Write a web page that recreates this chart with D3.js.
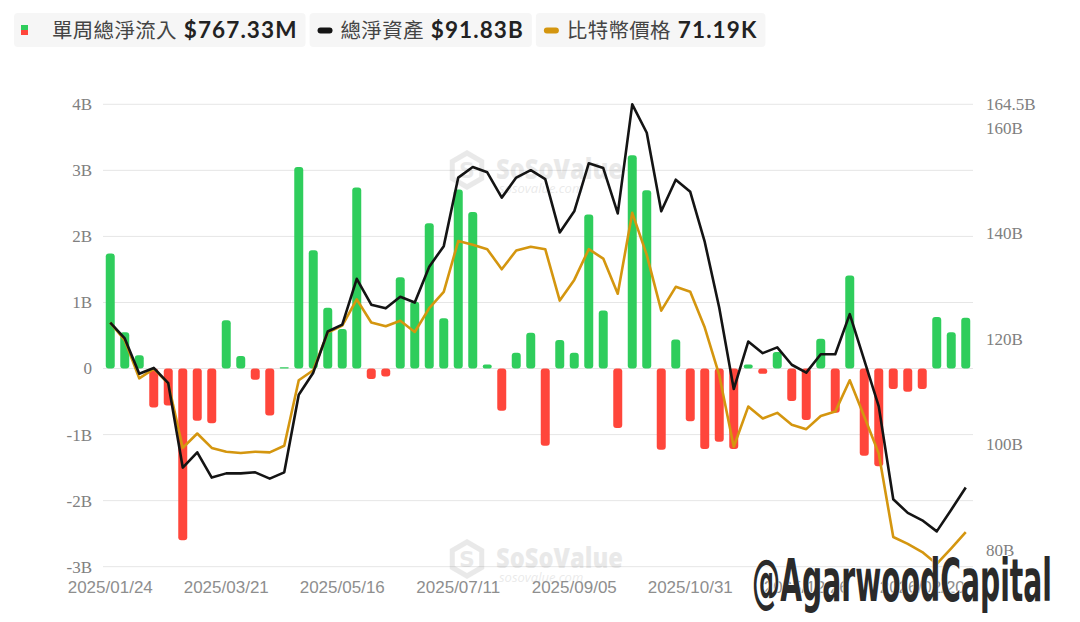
<!DOCTYPE html>
<html><head><meta charset="utf-8">
<script src="https://cdn.jsdelivr.net/npm/d3@7"></script>
<style>html,body{margin:0;padding:0;background:#fff;}svg{display:block;}</style>
</head><body>
<svg id="chart" width="1080" height="622"></svg>
<script>
const weeks = ["2025/01/24","2025/01/31","2025/02/07","2025/02/14","2025/02/21","2025/02/28","2025/03/07","2025/03/14","2025/03/21","2025/03/28",
"2025/04/04","2025/04/11","2025/04/18","2025/04/25","2025/05/02","2025/05/09","2025/05/16","2025/05/23","2025/05/30","2025/06/06",
"2025/06/13","2025/06/20","2025/06/27","2025/07/04","2025/07/11","2025/07/18","2025/07/25","2025/08/01","2025/08/08","2025/08/15",
"2025/08/22","2025/08/29","2025/09/05","2025/09/12","2025/09/19","2025/09/26","2025/10/03","2025/10/10","2025/10/17","2025/10/24",
"2025/10/31","2025/11/07","2025/11/14","2025/11/21","2025/11/28","2025/12/05","2025/12/12","2025/12/19","2025/12/26","2026/01/02",
"2026/01/09","2026/01/16","2026/01/23","2026/01/30","2026/02/06","2026/02/13","2026/02/20","2026/02/27","2026/03/06","2026/03/13"];
// weekly net inflow, billions USD
const netInflow = [1.74,0.55,0.20,-0.59,-0.56,-2.60,-0.79,-0.83,0.73,0.19,
-0.17,-0.71,0.02,3.05,1.79,0.92,0.60,2.74,-0.16,-0.12,
1.38,1.01,2.20,0.76,2.71,2.37,0.06,-0.64,0.24,0.54,
-1.17,0.43,0.24,2.33,0.88,-0.90,3.23,2.70,-1.23,0.44,
-0.80,-1.22,-1.11,-1.22,0.06,-0.08,0.25,-0.49,-0.78,0.45,
-0.67,1.41,-1.32,-1.48,-0.31,-0.35,-0.31,0.78,0.55,0.76733];
// total net assets, billions USD
const netAssets = [123.1,120.1,113.4,114.5,111.6,95.6,98.5,93.7,94.5,94.5,
94.7,93.5,94.7,109.4,113.6,121.4,122.7,131.4,126.5,125.8,
128.0,126.9,133.7,137.6,150.6,152.6,151.6,146.8,150.6,152.0,
150.3,140.2,144.2,153.3,152.4,143.8,164.5,159.1,144.2,150.2,
147.9,138.4,125.9,110.5,119.5,117.3,118.4,115.1,113.6,117.1,
117.1,124.7,116.0,107.2,89.6,87.0,85.6,83.5,87.6,91.83];
// BTC price, thousands USD
const btcPrice = [104.6,101.8,95.7,97.2,94.9,84.6,86.9,84.6,84.0,83.8,
84.0,83.9,84.95,95.4,97.0,103.0,104.1,108.3,104.6,104.0,
104.9,103.1,106.9,109.5,117.6,117.0,116.3,113.1,116.1,116.7,
116.3,108.1,111.4,116.3,114.8,109.2,122.1,115.4,106.5,110.3,
109.5,103.8,96.2,84.8,91.2,89.3,90.2,88.3,87.6,89.7,
90.4,95.4,89.6,83.7,70.4,69.3,68.0,66.1,68.6,71.19];
const leftTicks = [-3,-2,-1,0,1,2,3,4];
const leftTickLabels = ["-3B","-2B","-1B","0","1B","2B","3B","4B"];
const rightTicks = [80,100,120,140,160,164.5];
const rightTickLabels = ["80B","100B","120B","140B","160B","164.5B"];
const xTickLabels = ["2025/01/24","2025/03/21","2025/05/16","2025/07/11","2025/09/05","2025/10/31","2025/12/26","2026/02/20"];
const legendItems = [
  {label:"單周總淨流入", value:"$767.33M", type:"bar"},
  {label:"總淨資產", value:"$91.83B", type:"line", color:"#141414"},
  {label:"比特幣價格", value:"71.19K", type:"line", color:"#d4960f"}
];

(function(){
const GREEN = "#2fcd5c", RED = "#ff463b", BLACK = "#141414", GOLD = "#d4960f";
const svg = d3.select("#chart");
const pLeft = 103, pRight = 973, pTop = 104.3, pBottom = 566.7;

const x = d3.scaleBand().domain(weeks).range([pLeft, pRight]).paddingInner(0.38).paddingOuter(0.19);
const yL = d3.scaleLinear().domain([-3, 4]).range([pBottom, pTop]);
const yR = d3.scaleLinear().domain([76.8, 164.5]).range([pBottom, pTop]);
const yP = d3.scaleLinear().domain([65.66, 139.41]).range([pBottom, pTop]);

// grid
svg.append("g").selectAll("line").data(leftTicks).join("line")
  .attr("x1", pLeft).attr("x2", pRight)
  .attr("y1", d => yL(d)).attr("y2", d => yL(d))
  .attr("stroke", "#e6e6e6").attr("stroke-width", 1);

// left axis labels
const axL = svg.append("g").attr("transform", `translate(${pLeft},0)`)
  .call(d3.axisLeft(yL).tickValues(leftTicks).tickSize(0).tickPadding(11)
     .tickFormat((d,i) => leftTickLabels[i]));
axL.select(".domain").remove();
axL.selectAll("text").attr("font-family", "'Liberation Serif', serif").attr("font-size", 17).attr("fill", "#808080");

// right axis labels
const axR = svg.append("g").attr("transform", `translate(${pRight},0)`)
  .call(d3.axisRight(yR).tickValues(rightTicks).tickSize(0).tickPadding(13)
     .tickFormat((d,i) => rightTickLabels[i]));
axR.select(".domain").remove();
axR.selectAll("text").attr("font-family", "'Liberation Serif', serif").attr("font-size", 17).attr("fill", "#808080");

// watermark
function watermark(wx, wy) {
  const g = svg.append("g").attr("opacity", 0.12);
  const r = 17;
  const hex = d3.range(6).map(k => [wx + r*Math.cos(Math.PI/6 + k*Math.PI/3), wy + r*Math.sin(Math.PI/6 + k*Math.PI/3)]);
  g.append("path").attr("d", d3.line()(hex) + "Z").attr("fill", "none").attr("stroke", "#555").attr("stroke-width", 5);
  g.append("text").attr("x", wx).attr("y", wy + 8).attr("text-anchor", "middle")
    .attr("font-family", "'DejaVu Sans', sans-serif").attr("font-weight", 700).attr("font-size", 22).attr("fill", "#555").text("S");
  g.append("text").attr("x", wx + 29).attr("y", wy + 9)
    .attr("font-family", "'Open Sans', sans-serif").attr("font-weight", 800).attr("font-size", 28).attr("fill", "#555")
    .attr("textLength", 127).attr("lengthAdjust", "spacingAndGlyphs").text("SoSoValue");
  g.append("text").attr("x", wx + 32).attr("y", wy + 23)
    .attr("font-family", "'Open Sans', sans-serif").attr("font-style", "italic").attr("font-size", 13).attr("fill", "#555")
    .text("sosovalue.com");
}
watermark(467, 170);
watermark(467, 559);

// bars
svg.append("g").selectAll("path").data(netInflow).join("path")
  .attr("fill", d => d >= 0 ? GREEN : RED)
  .attr("d", (d, i) => {
    const x0 = x(weeks[i]), w = x.bandwidth();
    const y0 = yL(0), y1 = yL(d);
    const h = Math.abs(y1 - y0);
    const r = Math.min(3, h/2, w/2);
    const yt = Math.min(y0, y1), yb = Math.max(y0, y1);
    return `M${x0},${yb - r}L${x0},${yt + r}Q${x0},${yt} ${x0 + r},${yt}L${x0 + w - r},${yt}Q${x0 + w},${yt} ${x0 + w},${yt + r}L${x0 + w},${yb - r}Q${x0 + w},${yb} ${x0 + w - r},${yb}L${x0 + r},${yb}Q${x0},${yb} ${x0},${yb - r}Z`;
  });

const cxf = i => x(weeks[i]) + x.bandwidth()/2;
svg.append("path").datum(btcPrice)
  .attr("d", d3.line().x((d,i) => cxf(i)).y(d => yP(d)))
  .attr("fill", "none").attr("stroke", GOLD).attr("stroke-width", 2.6).attr("stroke-linejoin", "round");
svg.append("path").datum(netAssets)
  .attr("d", d3.line().x((d,i) => cxf(i)).y(d => yR(d)))
  .attr("fill", "none").attr("stroke", BLACK).attr("stroke-width", 2.6).attr("stroke-linejoin", "round");

// x axis labels
const xIdx = xTickLabels.map(l => weeks.indexOf(l));
svg.append("g").selectAll("text").data(xTickLabels).join("text")
  .attr("x", (d,i) => cxf(xIdx[i])).attr("y", 593)
  .attr("text-anchor", "middle")
  .attr("font-family", "'Liberation Sans', Arial, sans-serif").attr("font-size", 17).attr("fill", "#8e8e8e")
  .text(d => d);

// legend
const lg = svg.append("g");
let lx = 14;
legendItems.forEach(item => {
  const g = lg.append("g");
  const bg = g.append("rect").attr("x", lx).attr("y", 13).attr("height", 34).attr("rx", 4).attr("fill", "#f6f6f6");
  let tx;
  if (item.type === "bar") {
    g.append("rect").attr("x", lx + 7).attr("y", 25).attr("width", 7).attr("height", 5).attr("fill", GREEN);
    g.append("rect").attr("x", lx + 7).attr("y", 30).attr("width", 7).attr("height", 5).attr("fill", RED);
    tx = lx + 38;
  } else {
    g.append("rect").attr("x", lx + 8).attr("y", 27.5).attr("width", 15).attr("height", 6).attr("rx", 3).attr("fill", item.color);
    tx = lx + 31;
  }
  const t1 = g.append("text").attr("x", tx).attr("y", 38)
    .attr("font-family", "'Noto Sans CJK TC', sans-serif").attr("font-size", 20.5).attr("letter-spacing", 0.3)
    .attr("fill", "#444").text(item.label);
  const w1 = t1.node().getComputedTextLength();
  const t2 = g.append("text").attr("x", tx + w1 + 7).attr("y", 38)
    .attr("font-family", "Lato, 'Noto Sans', sans-serif").attr("font-weight", 700).attr("font-size", 22.5)
    .attr("letter-spacing", 1.1).attr("fill", "#222").text(item.value);
  const w2 = t2.node().getComputedTextLength();
  const end = tx + w1 + 7 + w2 + 8;
  bg.attr("width", end - lx);
  lx = end + 4;
});

// author watermark
svg.append("text").attr("x", 752).attr("y", 601)
  .attr("font-family", "'DejaVu Sans', sans-serif").attr("font-weight", 700).attr("font-size", 58)
  .attr("textLength", 300).attr("lengthAdjust", "spacingAndGlyphs")
  .attr("fill", "#2a2a2a").attr("stroke", "#fff").attr("stroke-width", 2).attr("paint-order", "stroke")
  .text("@AgarwoodCapital");
})();
</script>
</body></html>
